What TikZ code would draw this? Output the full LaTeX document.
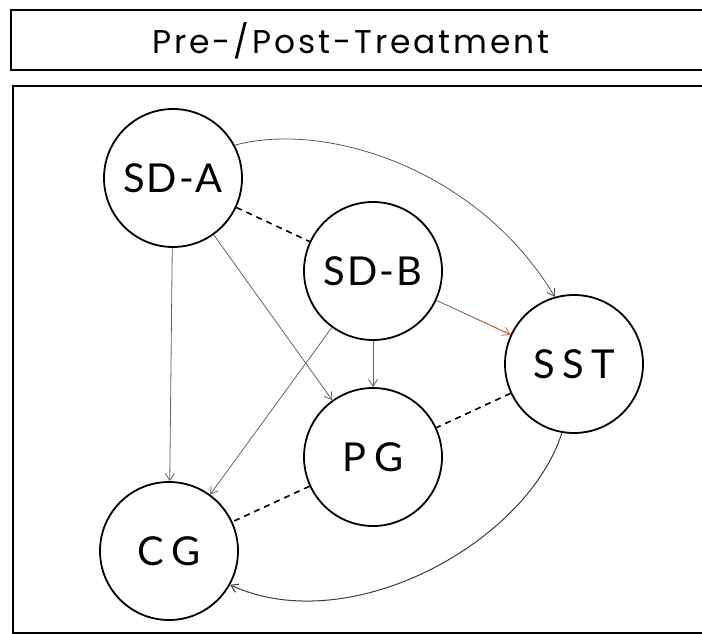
\documentclass[tikz,border=0pt]{standalone}
\usepackage{fontspec}
\setmainfont{Lato}
\newfontfamily\titlefont[LetterSpace=9]{Poppins}
\newfontfamily\labelfont[LetterSpace=5]{Lato}
\newfontfamily\widelabelfont[LetterSpace=18]{Lato}
\usetikzlibrary{arrows.meta,calc}

\definecolor{edgegray}{RGB}{100,100,100}
\definecolor{arcgray}{RGB}{60,60,60}
\definecolor{arcgreen}{RGB}{70,92,82}
\definecolor{warmarrow}{RGB}{215,105,70}

\begin{document}
\begin{tikzpicture}[x=1bp,y=-1bp,
  state/.style={circle,draw=black,line width=1.8bp,minimum size=138bp,inner sep=0pt,
    font=\labelfont\fontsize{40}{42}\selectfont},
  widestate/.style={state,font=\widelabelfont\fontsize{40}{42}\selectfont},
  link/.style={draw=edgegray,line width=0.8bp,-{Straight Barb[length=7bp,width=9bp]}},
  tie/.style={draw=black,line width=1.6bp,dash pattern=on 6bp off 5bp},
  frame/.style={draw=black,line width=1.5bp}]
\useasboundingbox (0,0) rectangle (702,634);

% header strip
\draw[frame] (712,10) -- (11,10) -- (11,70) -- (712,70);
\node[font=\titlefont\fontsize{33}{36}\selectfont] (title) at (351,41) {Pre-/Post-Treatment};

% diagram frame
\draw[frame] (712,86) -- (13,86) -- (13,633) -- (712,633);

% states
\node[state] (sda) at (173,178) {SD-A};
\node[state] (sdb) at (373,271) {SD-B};
\node[widestate] (sst) at (574,364) {SST};
\node[widestate] (pg) at (373,457) {PG};
\node[widestate] (cg) at (169,551) {CG};

% undirected ties
\draw[tie] (sda) -- (sdb);
\draw[tie] (sst) -- (pg);
\draw[tie] (pg) -- (cg);

% straight directed links
\draw[link] (sda) -- (cg);
\draw[link] (sda) -- (pg);
\draw[link] (sdb) -- (pg);
\draw[link] (sdb) -- (cg);
\draw[draw=edgegray,line width=0.8bp] (sdb) -- (sst);
\draw[link,draw=warmarrow] ($(sdb)!0.5!(sst)$) -- (sst);

% curved links
\draw[link,draw=arcgreen] (sda.28) .. controls +(93,-25) and +(-75,-126) .. (sst.106);
\draw[link,draw=arcgray,line width=1bp] (sst.-100) .. controls +(-35,110) and +(120,55) .. (cg.-29);
\end{tikzpicture}
\end{document}
